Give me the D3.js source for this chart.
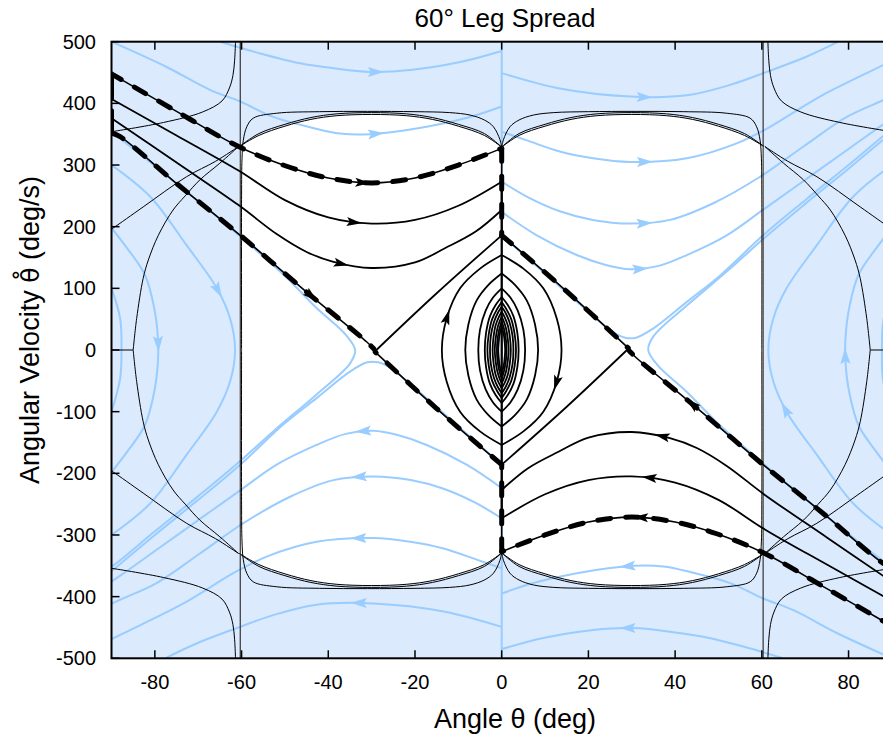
<!DOCTYPE html>
<html>
<head>
<meta charset="utf-8">
<script src="https://cdn.jsdelivr.net/npm/d3@7"></script>
<style>
  body { margin: 0; background: #fff; }
  svg { display: block; }
  text { font-family: "Liberation Sans", Arial, sans-serif; fill: #000; }
</style>
</head>
<body>
<svg id="chart" width="883" height="737"></svg>
<script>
// ---- data: [angle deg, angular velocity deg/s] ----
// flow curves are given for one half; the other half is the point mirror (-theta, -omega)

const xTicks = [-80, -60, -40, -20, 0, 20, 40, 60, 80];
const yTicks = [-500, -400, -300, -200, -100, 0, 100, 200, 300, 400, 500];

// thin black level curves, top-left copy (4-fold symmetric)
const thinA = [[-90,354],[-78,369],[-69,386],[-64.5,404],[-62.8,425],[-62,445],[-61.6,470],[-61.4,500]];
const thinB = [[-60.7,330],[-66,306],[-72.7,281],[-82.7,232],[-89.6,198],[-91,192]];
const thinC = [[-60.7,330],[-65,303],[-69.6,276],[-73,250],[-75.8,227],[-79.2,186],[-81.5,146],[-82.7,116],[-84.2,51],[-85,0]];
const thinH = [[-92,0],[-85,0]];
const thinV = [[-60.3,-500],[-60.3,500]];
const arcU1 = [[-60.5,330],[-56,348],[-50,363],[-44,374],[-38,380],[-30,382],[-22,380],[-16,374],[-10,363],[-4,348],[0,329]];
const arcU2 = [[-60.5,330],[-56,351],[-50,366],[-44,377],[-38,383],[-30,385],[-22,383],[-16,377],[-10,366],[-4,351],[0,329]];
const arcU3 = [[0,328],[-0.4,341],[-1.9,362],[-4,373],[-7.3,381],[-12,385],[-20,386.5],[-31,387],[-42,386.5],[-51.9,384],[-57.3,376],[-58.8,362],[-59.6,340],[-59.9,310],[-60,250],[-60,0]];

// light blue trajectories
const blueB1a = [[-64.9,500],[-55.7,481],[-46.5,465],[-38.9,457],[-30.4,451],[-21.1,454],[-9.6,467],[0,485]];
const blueB1b = [[0,449],[13.4,424],[29.6,411],[42.7,413],[52.7,430],[61.1,451],[70.4,476],[77.6,500]];
const blueB2a = [[-90,500],[-77.3,459],[-67.3,422],[-60.3,403],[-52.7,378],[-43.5,360],[-37.3,351],[-30.4,350],[-17.3,362],[-7.3,378],[0,395]];
const blueB2b = [[0,354],[5.8,340],[13.4,322],[21.1,311],[29.6,305],[42.7,311],[54.2,335],[61.9,362],[73.4,411],[88,462],[92,476]];
const blueB3b = [[0,273],[6,248],[13.4,225],[21,211],[29.6,205],[38.8,211],[48.8,238],[59.6,281],[69.6,330],[79.6,378],[88,405],[92,418]];
const blueB4b = [[0,224],[8.1,186],[17.3,154],[24,138],[29.6,131],[36,136],[42.7,154],[51.9,186],[60,226],[70,276],[80,326],[88,366],[92,385]];
const blueHA = [[0,186],[10,124],[20,62],[25.5,30],[28.5,20],[31,20],[35,35],[42.7,78],[50.4,121],[60.3,186],[70,243],[80,300],[88,347],[92,370]];
const blueHB = [[88,-343],[72.7,-257],[60.3,-184],[50,-120],[42.7,-68],[36,-25],[33.8,0],[35,22],[42.7,72],[52.7,132],[60.3,180],[70,237],[80,294],[88,341],[92,362]];
const blueOL1 = [[-90,100],[-88,51],[-87.7,0],[-88,-46],[-90,-100]];
const blueOL2 = [[-90,198],[-86.5,166],[-82.3,122],[-80.2,70],[-79.3,20],[-79.3,-20],[-80.2,-70],[-82.3,-122],[-86.5,-166],[-90,-198]];
const blueOL3 = [[-90,300],[-81.1,249],[-72.7,170],[-65.7,100],[-62.6,50],[-61.5,0],[-62.6,-50],[-65.7,-100],[-72.7,-170],[-81.1,-249],[-90,-300]];

// black trajectories
const dashD1 = [[-90.3,449],[-75,387],[-60.7,330],[-49.6,298],[-40,279],[-30,271],[-20,279],[-10,300],[0,327]];
const dashD1jump = [[0,327],[0,186]];
const dashD2 = [[0,186],[15,95],[29.2,3]];
const dashD3 = [[-90,352],[-88,346],[-75,270],[-60.3,186],[-45,94],[-31.1,13],[-29.5,2]];
const dashBars = [[[-90,445],[-90,408]], [[-90,388],[-90,352]]];
const solidK2 = [[-90,407],[-75,348],[-60.7,291],[-50,243],[-40,215],[-30,205],[-20,211],[-10,234],[0,273]];
const solidK3 = [[-90,376],[-75,304],[-60.7,235],[-51.9,188],[-45,159],[-38.8,143],[-30,133],[-20,142],[-13.1,165],[-6,192],[0,227]];
const solidEdge = [[0,186],[-15,92],[-29.2,-2]];
const solidAxis = [[0,273],[0,-273]];
const lens1 = [[0,154],[5,132],[9.6,100],[12.7,51],[13.8,0],[12.7,-51],[9.6,-100],[5,-132],[0,-154]];
const lens2 = [[0,124],[3,106],[5.8,80],[7.7,41],[8.4,0],[7.7,-41],[5.8,-80],[3,-106],[0,-124]];
const lens3 = [[0,100],[2,85],[3.7,64],[5,33],[5.4,0],[5,-33],[3.7,-64],[2,-85],[0,-100]];
const lens4 = [[0,86],[1.4,73],[2.7,55],[3.6,28],[3.9,0],[3.6,-28],[2.7,-55],[1.4,-73],[0,-86]];
const lens5 = [[0,78],[1.1,66],[2.2,50],[3,25],[3.3,0],[3,-25],[2.2,-50],[1.1,-66],[0,-78]];
const lens6 = [[0,70],[0.9,60],[1.8,45],[2.5,23],[2.7,0],[2.5,-23],[1.8,-45],[0.9,-60],[0,-70]];
const lens7 = [[0,62],[0.7,53],[1.4,40],[1.9,20],[2.1,0],[1.9,-20],[1.4,-40],[0.7,-53],[0,-62]];
const lens8 = [[0,54],[0.5,46],[1,35],[1.4,18],[1.6,0],[1.4,-18],[1,-35],[0.5,-46],[0,-54]];
const lens9 = [[0,46],[0.35,39],[0.7,29],[1,15],[1.1,0],[1,-15],[0.7,-29],[0.35,-39],[0,-46]];
const lens10 = [[0,38],[0.25,32],[0.5,24],[0.7,12],[0.8,0],[0.7,-12],[0.5,-24],[0.25,-32],[0,-38]];

// arrow spots: [curve, theta, omega]
const blueArrows = [[blueB1a,-29,451],[blueB1b,33,411],[blueB2a,-29,350],[blueB2b,33,305],
  [blueB3b,33,206],[blueB4b,32,131],[blueOL2,-79.3,10],[blueOL3,-65.7,95]];
const blackArrows = [[dashD1,-32,272],[solidK2,-34,206],[solidK3,-37,138],[dashD3,-44,86],[lens1,11.5,-51]];

// ---- drawing ----
const svg = d3.select('#chart');
const x = d3.scaleLinear().domain([-90, 90]).range([111.5, 891.9]);
const y = d3.scaleLinear().domain([-500, 500]).range([658.3, 41.7]);
const line = d3.line().x(d => x(d[0])).y(d => y(d[1])).curve(d3.curveCatmullRom.alpha(0.5));

const mirP = pts => pts.map(([a, b]) => [-a, -b]);
const mirT = pts => pts.map(([a, b]) => [-a, b]);
const mirW = pts => pts.map(([a, b]) => [a, -b]);
const four = pts => [pts, mirT(pts), mirW(pts), mirP(pts)];
const two = pts => [pts, mirP(pts)];

svg.append('defs').append('clipPath').attr('id', 'clip').append('rect')
  .attr('x', x(-90)).attr('y', y(500))
  .attr('width', x(90) - x(-90)).attr('height', y(-500) - y(500));

const plot = svg.append('g').attr('clip-path', 'url(#clip)');

plot.append('rect')
  .attr('x', x(-90)).attr('y', y(500))
  .attr('width', x(90) - x(-90)).attr('height', y(-500) - y(500))
  .attr('fill', '#dbeafd');

// white basin
const joinPaths = parts => parts.map((p, i) => i ? line(p).replace(/^M/, 'L') : line(p)).join('') + 'Z';
plot.append('path')
  .attr('d', joinPaths([arcU1, mirT(arcU1).reverse(), mirP(arcU1), mirW(arcU1).reverse()]))
  .attr('fill', '#fff');

const blueCol = '#99ccff';
const draw = (g, list, stroke, w, dash) => list.forEach(pts => {
  const p = g.append('path').attr('d', line(pts)).attr('fill', 'none')
    .attr('stroke', stroke).attr('stroke-width', w);
  if (dash) p.attr('stroke-dasharray', dash).attr('stroke-linecap', 'round');
});

// blue flow
plot.append('path').attr('d', line([[0, -500], [0, 500]]))
  .attr('stroke', blueCol).attr('stroke-width', 2);
const blueList = [blueB1a, blueB1b, blueB2a, blueB2b, blueB3b, blueB4b, blueHA, blueHB, blueOL1, blueOL2, blueOL3];
blueList.forEach(c => draw(plot, two(c), blueCol, 2));

// thin black
[thinA, thinB, arcU1, arcU2, arcU3].forEach(c => draw(plot, four(c), '#000', 1));
draw(plot, [thinC, mirW(thinC), mirT(thinC), mirP(thinC)], '#000', 1);
draw(plot, two(thinH), '#000', 1);
draw(plot, two(thinV), '#333', 1.2);

// thick black
[solidK2, solidK3, solidEdge, solidAxis, lens1, lens2, lens3, lens4, lens5, lens6, lens7, lens8, lens9, lens10]
  .forEach(c => draw(plot, two(c), '#000', 1.8));
[dashD1, dashD1jump, dashD2, dashD3].forEach(c => {
  draw(plot, two(c), '#000', 1.6);
  draw(plot, two(c), '#000', 5, '13,15');
});
dashBars.forEach(c => draw(plot, two(c), '#000', 5, '30,0'));

// arrowheads
function arrowAt(pts, tx, ty, fill, len, wid) {
  const node = plot.append('path').attr('d', line(pts)).attr('fill', 'none').node();
  const L = node.getTotalLength();
  const X = x(tx), Y = y(ty);
  let best = 0, bd = Infinity;
  for (let s = 0; s <= L; s += 0.5) {
    const p = node.getPointAtLength(s);
    const d = (p.x - X) ** 2 + (p.y - Y) ** 2;
    if (d < bd) { bd = d; best = s; }
  }
  const c = node.getPointAtLength(best);
  const a = node.getPointAtLength(Math.max(0, best - 3));
  const b = node.getPointAtLength(Math.min(L, best + 3));
  node.remove();
  const ang = Math.atan2(b.y - a.y, b.x - a.x) * 180 / Math.PI;
  plot.append('path')
    .attr('d', `M${len / 2},0L${-len / 2},${wid / 2}L${-len / 2 + 3},0L${-len / 2},${-wid / 2}Z`)
    .attr('transform', `translate(${c.x},${c.y}) rotate(${ang})`)
    .attr('fill', fill);
}
blueArrows.forEach(([c, t, w]) => {
  arrowAt(c, t, w, blueCol, 16, 10);
  arrowAt(mirP(c), -t, -w, blueCol, 16, 10);
});
blackArrows.forEach(([c, t, w]) => {
  arrowAt(c, t, w, '#000', 15, 9);
  arrowAt(mirP(c), -t, -w, '#000', 15, 9);
});

// ---- axes ----
const ax = svg.append('g');
ax.append('rect')
  .attr('x', x(-90)).attr('y', y(500))
  .attr('width', x(90) - x(-90)).attr('height', y(-500) - y(500))
  .attr('fill', 'none').attr('stroke', '#000').attr('stroke-width', 2);

xTicks.forEach(t => {
  ax.append('line').attr('x1', x(t)).attr('x2', x(t)).attr('y1', y(-500)).attr('y2', y(-500) - 8)
    .attr('stroke', '#000').attr('stroke-width', 1.5);
  ax.append('line').attr('x1', x(t)).attr('x2', x(t)).attr('y1', y(500)).attr('y2', y(500) + 8)
    .attr('stroke', '#000').attr('stroke-width', 1.5);
  ax.append('text').attr('x', x(t)).attr('y', 689).attr('text-anchor', 'middle')
    .attr('font-size', 20).text(t);
});
yTicks.forEach(t => {
  ax.append('line').attr('x1', x(-90)).attr('x2', x(-90) + 8).attr('y1', y(t)).attr('y2', y(t))
    .attr('stroke', '#000').attr('stroke-width', 1.5);
  ax.append('text').attr('x', 96).attr('y', y(t) + 7).attr('text-anchor', 'end')
    .attr('font-size', 20).text(t);
});

svg.append('text').attr('x', 505).attr('y', 27).attr('text-anchor', 'middle')
  .attr('font-size', 26).text('60° Leg Spread');
svg.append('text').attr('x', 515).attr('y', 728).attr('text-anchor', 'middle')
  .attr('font-size', 27).text('Angle θ (deg)');
const yl = svg.append('text').attr('transform', 'translate(39,330) rotate(-90)')
  .attr('text-anchor', 'middle').attr('font-size', 27);
yl.append('tspan').text('Angular Velocity ');
yl.append('tspan').style('font-family', '"DejaVu Sans", sans-serif').attr('font-size', 25).text('θ̊');
yl.append('tspan').text(' (deg/s)');
</script>
</body>
</html>
